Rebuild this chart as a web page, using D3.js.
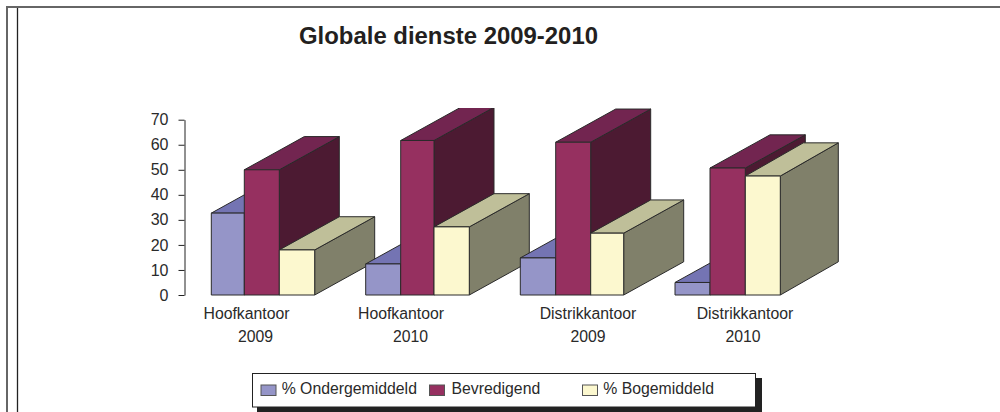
<!DOCTYPE html>
<html><head><meta charset="utf-8">
<style>html,body{margin:0;padding:0;background:#fff}svg{display:block}text{font-family:"Liberation Sans",Arial,sans-serif;fill:#2a2a2a}</style>
<script src="https://cdnjs.cloudflare.com/ajax/libs/d3/7.8.5/d3.min.js"></script>
</head><body><script>
const titleText = "Globale dienste 2009-2010";
const categories = [["Hoofkantoor","2009"],["Hoofkantoor","2010"],["Distrikkantoor","2009"],["Distrikkantoor","2010"]];
const seriesNames = ["% Ondergemiddeld","Bevredigend","% Bogemiddeld"];
const ondergemiddeld = [32.7,12.4,14.8,5];
const bevredigend = [50,61.7,61,50.7];
const bogemiddeld = [18,27.2,24.7,47.5];
const yTicks = [0,10,20,30,40,50,60,70];
const frontColors = ["#9595c8","#963060","#fcf8cf"];
const topColors = ["#7474b3","#722550","#bfbf99"];
const sideColors = ["#4d4d73","#4c1a32","#80806a"];

const W=1000,H=412;
const svg=d3.select("body").append("svg").attr("width",W).attr("height",H);
const y=d3.scaleLinear().domain([0,70]).range([295,119.7]);
const groupEdges=[[211.3,244.3,279.3,314.7],[365.7,400.7,434,469.3],[520.3,555.7,590.7,623.7],[675,710,745.3,780.3]];
const dy=33.2;
const depthOf=(i,k)=>(i===3&&k===2)?58:60;

// frame
svg.append("path").attr("d","M7,412V7H1000").attr("fill","none").attr("stroke","#666").attr("stroke-width",2);
svg.append("path").attr("d","M17.5,412V8").attr("fill","none").attr("stroke","#222").attr("stroke-width",1.3);

svg.append("text").attr("x",299).attr("y",43.5).attr("font-size",23.5).attr("font-weight","bold")
  .attr("textLength",299).attr("lengthAdjust","spacingAndGlyphs").style("fill","#231f20").text(titleText);

// axis
const axis=d3.axisLeft(y).tickValues(yTicks).tickSize(6).tickPadding(10).tickSizeOuter(0);
const ag=svg.append("g").attr("transform","translate(184.5,0)").call(axis);
ag.selectAll("path,line").attr("stroke","#222");
ag.selectAll("text").attr("font-size",16).attr("font-family",'"Liberation Sans",Arial,sans-serif');

const series=[ondergemiddeld,bevredigend,bogemiddeld];
svg.append("clipPath").attr("id","c").append("rect").attr("x",0).attr("y",108).attr("width",W).attr("height",H);
const plot=svg.append("g").attr("clip-path","url(#c)");
const poly=(g,pts,fill)=>g.append("polygon").attr("points",pts.map(p=>p.join(",")).join(" ")).attr("fill",fill).attr("stroke","#2a2a2a").attr("stroke-width",1).attr("stroke-linejoin","round");
categories.forEach((c,i)=>{
  series.forEach((s,k)=>{
    const l=groupEdges[i][k], r=groupEdges[i][k+1], t=y(s[i]), b=y(0), dx=depthOf(i,k);
    const g=plot.append("g");
    poly(g,[[r,b],[r+dx,b-dy],[r+dx,t-dy],[r,t]],sideColors[k]);
    poly(g,[[l,t],[l+dx,t-dy],[r+dx,t-dy],[r,t]],topColors[k]);
    poly(g,[[l,t],[r,t],[r,b],[l,b]],frontColors[k]);
  });
});

// category labels
const labelX=[246.5,401,588,745], yearX=[255.5,410.5,588,743];
categories.forEach((c,i)=>{
  const t=svg.append("text").attr("text-anchor","middle").attr("font-size",15.8);
  t.append("tspan").attr("x",labelX[i]).attr("y",319).text(c[0]);
  t.append("tspan").attr("x",yearX[i]).attr("y",342).text(c[1]);
});

// legend
svg.append("rect").attr("x",257).attr("y",378).attr("width",505).attr("height",34).attr("fill","#222");
svg.append("rect").attr("x",252.5).attr("y",373.5).attr("width",503).attr("height",33.5).attr("fill","#fff").attr("stroke","#222");
const legX=[261,429.5,582.5], legT=[281.7,451.5,603.3];
seriesNames.forEach((n,k)=>{
  svg.append("rect").attr("x",legX[k]).attr("y",385).attr("width",15).attr("height",10.5).attr("fill",frontColors[k]).attr("stroke","#555");
  svg.append("text").attr("x",legT[k]).attr("y",393.7).attr("font-size",15.8).text(n);
});
</script></body></html>
